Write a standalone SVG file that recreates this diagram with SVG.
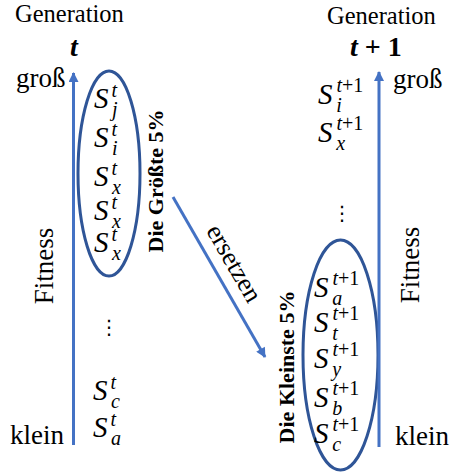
<svg xmlns="http://www.w3.org/2000/svg" width="455" height="473" viewBox="0 0 455 473">
  <style>
    .gen  { font-family: "Liberation Serif", serif; font-size: 24.5px; fill: #000; }
    .big  { font-family: "Liberation Serif", serif; font-size: 27px; fill: #000; }
    .rot  { font-family: "Liberation Serif", serif; font-size: 22px; font-weight: bold; fill: #000; }
    .bt   { font-family: "Liberation Serif", serif; font-size: 28px; font-weight: bold; fill: #000; }
    .arrl { font-family: "Liberation Serif", serif; font-size: 26px; fill: #000; }
    .S    { font-family: "Liberation Serif", serif; font-style: italic; font-size: 29px; fill: #000; }
    .up   { font-style: normal; }
    .axis { stroke: #4472C4; stroke-width: 3; fill: none; }
    .set  { stroke: #2F5597; stroke-width: 3; fill: none; }
    .dots { font-family: "DejaVu Sans", sans-serif; font-size: 20px; fill: #000; }
  </style>
  <defs>
    <marker id="head" viewBox="0 0 10 10" refX="9" refY="5" markerUnits="userSpaceOnUse" markerWidth="11" markerHeight="10" orient="auto">
      <path d="M0,0 L10,5 L0,10 z" fill="#4472C4"/>
    </marker>
  </defs>

  <!-- generation t -->
  <g id="gen-t" font-family="Liberation Serif, serif">
    <text class="gen" x="15" y="22">Generation</text>
    <text class="bt" x="70" y="56" font-style="italic">t</text>
    <text class="big" x="16" y="87">groß</text>
    <text class="big" x="10" y="444">klein</text>
    <text class="big" transform="translate(53,266) rotate(-90)" text-anchor="middle">Fitness</text>
  </g>

  <!-- generation t+1 -->
  <g id="gen-t1" font-family="Liberation Serif, serif">
    <text class="gen" x="327" y="24">Generation</text>
    <text class="bt" x="350" y="56"><tspan font-style="italic">t</tspan> + 1</text>
    <text class="big" x="393" y="88">groß</text>
    <text class="big" x="395" y="445">klein</text>
    <text class="big" transform="translate(419,265) rotate(-90)" text-anchor="middle">Fitness</text>
  </g>

  <!-- population at t: S, then superscript, then subscript -->
  <g id="pop-t" font-family="Liberation Serif, serif">
    <text class="S" x="94" y="108">S<tspan font-size="20" dx="3" dy="-11">t</tspan><tspan font-size="20" dx="-5" dy="19">j</tspan></text>
    <text class="S" x="94" y="147">S<tspan font-size="20" dx="3" dy="-11">t</tspan><tspan font-size="20" dx="-5" dy="19">i</tspan></text>
    <text class="S" x="94" y="186">S<tspan font-size="20" dx="3" dy="-11">t</tspan><tspan font-size="20" dx="-5" dy="19">x</tspan></text>
    <text class="S" x="94" y="220">S<tspan font-size="20" dx="3" dy="-11">t</tspan><tspan font-size="20" dx="-5" dy="19">x</tspan></text>
    <text class="S" x="94" y="252">S<tspan font-size="20" dx="3" dy="-11">t</tspan><tspan font-size="20" dx="-5" dy="19">x</tspan></text>
    <text class="dots" x="99" y="334">⋮</text>
    <text class="S" x="93" y="400">S<tspan font-size="20" dx="3" dy="-11">t</tspan><tspan font-size="20" dx="-5" dy="19">c</tspan></text>
    <text class="S" x="93" y="437">S<tspan font-size="20" dx="3" dy="-11">t</tspan><tspan font-size="20" dx="-5" dy="19">a</tspan></text>
  </g>

  <!-- best 5% at t -->
  <g id="best-t" font-family="Liberation Serif, serif">
    <ellipse class="set" cx="109" cy="173.5" rx="31" ry="102.5"/>
    <text class="rot" transform="translate(163,181) rotate(-90)" text-anchor="middle">Die Größte 5%</text>
  </g>

  <!-- population at t+1 -->
  <g id="pop-t1" font-family="Liberation Serif, serif">
    <text class="S" x="318" y="104">S<tspan font-size="20" dx="4" dy="-12">t<tspan class="up">+1</tspan></tspan><tspan font-size="20" dx="-27" dy="20">i</tspan></text>
    <text class="S" x="318" y="142">S<tspan font-size="20" dx="4" dy="-12">t<tspan class="up">+1</tspan></tspan><tspan font-size="20" dx="-27" dy="20">x</tspan></text>
    <text class="dots" x="332" y="220">⋮</text>
  </g>

  <!-- worst 5% at t+1 -->
  <g id="worst-t1" font-family="Liberation Serif, serif">
    <ellipse class="set" cx="340.5" cy="355" rx="37.5" ry="115"/>
    <text class="S" x="314" y="297">S<tspan font-size="20" dx="4" dy="-12">t<tspan class="up">+1</tspan></tspan><tspan font-size="20" dx="-27" dy="20">a</tspan></text>
    <text class="S" x="314" y="332">S<tspan font-size="20" dx="4" dy="-12">t<tspan class="up">+1</tspan></tspan><tspan font-size="20" dx="-27" dy="20">t</tspan></text>
    <text class="S" x="314" y="368">S<tspan font-size="20" dx="4" dy="-12">t<tspan class="up">+1</tspan></tspan><tspan font-size="20" dx="-27" dy="20">y</tspan></text>
    <text class="S" x="314" y="407">S<tspan font-size="20" dx="4" dy="-12">t<tspan class="up">+1</tspan></tspan><tspan font-size="20" dx="-27" dy="20">b</tspan></text>
    <text class="S" x="314" y="443">S<tspan font-size="20" dx="4" dy="-12">t<tspan class="up">+1</tspan></tspan><tspan font-size="20" dx="-27" dy="20">c</tspan></text>
    <text class="rot" transform="translate(294,367) rotate(-90)" text-anchor="middle">Die Kleinste 5%</text>
  </g>

  <!-- connectors -->
  <g id="connectors">
    <line class="axis" x1="73.5" y1="445" x2="73.5" y2="73" marker-end="url(#head)"/>
    <line class="axis" x1="379" y1="447" x2="379" y2="72" marker-end="url(#head)"/>
    <line class="axis" x1="173" y1="197" x2="265" y2="357" marker-end="url(#head)"/>
    <text class="arrl" transform="translate(233,264) rotate(60)" text-anchor="middle" y="7">ersetzen</text>
  </g>
</svg>
